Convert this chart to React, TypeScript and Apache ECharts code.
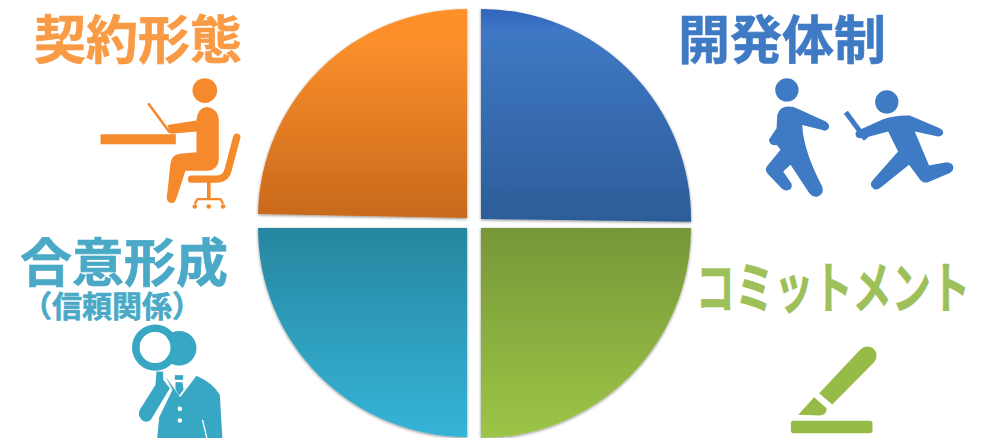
import React, { useEffect, useRef } from "react";
import * as echarts from "echarts";

// The four quadrants of the diagram, clockwise from the top right.
const categories = ["開発体制", "コミットメント", "合意形成", "契約形態"];
const shares = [25.2, 25, 25, 24.7];
const subtitle = "（信頼関係）";
const startAngles = [90, 0, 270, 178.9];
const centers = [[481, 219], [481, 228], [467, 228], [467, 218]];
const radii = [210, 210, 209, 209];
const gradients = [
  [[0, "#2F63BB"], [0.1, "#3F78C5"], [1, "#2C5D98"]],
  [[0, "#779738"], [1, "#9DC547"]],
  [[0, "#27869F"], [1, "#35B4D8"]],
  [[0, "#FF9029"], [0.15, "#FB8F2C"], [1, "#C8691B"]],
];
const headingColors = ["#3F7AC4", "#9DC05A", "#4AA9C6", "#F99A45"];
const iconColors = ["#3F7AC4", "#96BB46", "#38A7C4", "#F58A2C"];

const dot = (cx: number, cy: number, r: number) =>
  `M${cx - r} ${cy}A${r} ${r} 0 1 1 ${cx + r} ${cy}A${r} ${r} 0 1 1 ${cx - r} ${cy}Z`;

// Icon outlines, drawn on a 3x grid and scaled down when placed.
type Part = { d: string; width?: number; cap?: string };
const officeWorker: Part[] = [
  { d: dot(615, 272, 37) },
  { d: "M302 403H528V433H302Z" },
  { d: "M445 310L510 398", width: 8 },
  { d: "M620 321Q655 325 657 360L657 480Q655 510 625 513L557 513L530 595Q522 618 505 605Q498 598 503 575L512 490Q515 466 540 462L590 457L590 395L512 402L503 375L590 362Q592 325 620 321Z" },
  { d: "M711 412L685 510Q678 538 650 538L575 538", width: 22, cap: "round" },
  { d: "M627 545L627 600", width: 11 },
  { d: "M585 612L593 598L662 598L670 612", width: 7 },
  { d: dot(585, 620, 7) + dot(627, 620, 7) + dot(670, 620, 7) },
];
const relayRunners: Part[] = [
  { d: dot(351, 270, 35) },
  { d: "M322 345Q330 320 355 320Q372 320 385 327L468 365Q485 378 473 390Q465 395 455 390L397 375Q400 450 457 560Q465 583 442 591Q425 592 415 575L362 495L340 515L365 552Q370 570 350 572Q340 572 330 560L292 520Q282 508 295 495L332 450L320 435Q300 440 297 420L320 385Z" },
  { d: dot(651, 306, 35) },
  { d: "M528 337L588 418", width: 15 },
  { d: "M565 392L640 358Q680 345 720 347L810 385Q826 394 818 405Q810 413 795 408L735 395L778 497L830 487Q850 488 851 503Q850 516 835 522L775 547Q760 552 750 538L718 495L630 565Q615 575 605 560Q600 550 610 540L685 455L655 395L580 415Q555 418 557 400Q558 396 565 392Z" },
];
const pen: Part[] = [
  { d: "M448 460L570 330Q590 312 610 325Q630 345 612 368L487 494Z" },
  { d: "M433 472L470 505Q472 525 450 527L385 525Z" },
  { d: "M371 543H600Q608 543 608 551V572Q608 580 600 580H371Q363 580 363 572V551Q363 543 371 543Z" },
];
const inspector: Part[] = [
  { d: dot(538, 385, 52) },
  { d: dot(466, 383, 58), width: 23 },
  { d: "M470 455L490 455L490 480L510 505L453 600Q440 612 425 600Q412 585 420 570L467 495Z" },
  { d: "M497 470L518 510L478 592L472 658H668L660 525Q640 490 590 468L541 532Z" },
  { d: "M525 466H550V480H525Z" },
  { d: "M527 487H548L551 510L538 527L527 510Z" },
];
const inspectorDetails: Part[] = [
  { d: dot(466, 383, 46) },
  { d: dot(540, 567, 7) + dot(540, 602, 7) },
  { d: "M608 600L622 658", width: 4 },
];

const shapeNames = new Map<Part, string>();
[officeWorker, relayRunners, pen, inspector, inspectorDetails].flat().forEach((part, i) => {
  const name = `diagramIcon${i}`;
  echarts.graphic.registerShape(name, echarts.graphic.extendPath(part.d, {}) as any);
  shapeNames.set(part, name);
});

const placeIcon = (parts: Part[], x: number, y: number, color: string) => ({
  type: "group",
  x,
  y,
  scaleX: 1 / 3,
  scaleY: 1 / 3,
  silent: true,
  children: parts.map((part) => ({
    type: shapeNames.get(part),
    style: part.width
      ? { fill: "none", stroke: color, lineWidth: part.width, lineCap: part.cap ?? "butt", lineJoin: "round" }
      : { fill: color },
  })),
});

const heading = (text: string, x: number, y: number, color: string, fontSize: number, extra = {}) => ({
  type: "text",
  x,
  y,
  silent: true,
  ...extra,
  style: {
    text,
    fill: color,
    stroke: color,
    lineWidth: 0.6,
    fontFamily: '"Noto Sans CJK JP"',
    fontWeight: "bold",
    fontSize,
    textAlign: "center",
    textVerticalAlign: "middle",
  },
});

export default function App() {
  const ref = useRef<HTMLDivElement>(null);

  useEffect(() => {
    document.body.style.margin = "0";
    const chart = echarts.init(ref.current!, undefined, { renderer: "svg" });
    chart.setOption({
      animation: false,
      backgroundColor: "#FFFFFF",
      series: categories.map((name, i) => ({
        type: "pie",
        silent: true,
        clockwise: true,
        startAngle: startAngles[i],
        center: centers[i],
        radius: [0, radii[i]],
        label: { show: false },
        labelLine: { show: false },
        data: [
          {
            name,
            value: shares[i],
            itemStyle: {
              color: {
                type: "linear",
                x: 0,
                y: 0,
                x2: 0,
                y2: 1,
                colorStops: gradients[i].map(([offset, color]) => ({ offset, color })),
              },
              shadowBlur: 3,
              shadowColor: "rgba(0,0,0,0.45)",
              shadowOffsetY: 1,
            },
          },
          { name: "", value: 100 - shares[i], itemStyle: { color: "rgba(0,0,0,0)" } },
        ],
      })),
      graphic: {
        elements: [
          heading(categories[3], 138, 36, headingColors[3], 52),
          heading(categories[0], 782, 36, headingColors[0], 52),
          heading(categories[2], 124, 259, headingColors[2], 52),
          heading(subtitle, 112, 304, headingColors[2], 30),
          heading(categories[1], 833, 284, headingColors[1], 56, { scaleX: 0.7 }),
          placeIcon(officeWorker, 0, 0, iconColors[3]),
          placeIcon(relayRunners, 670, 0, iconColors[0]),
          placeIcon(pen, 670, 240, iconColors[1]),
          placeIcon(inspector, 0, 220, iconColors[2]),
          placeIcon(inspectorDetails, 0, 220, "#FFFFFF"),
        ],
      },
    });
    return () => chart.dispose();
  }, []);

  return <div ref={ref} style={{ position: "fixed", left: 0, top: 0, width: 992, height: 438 }} />;
}
